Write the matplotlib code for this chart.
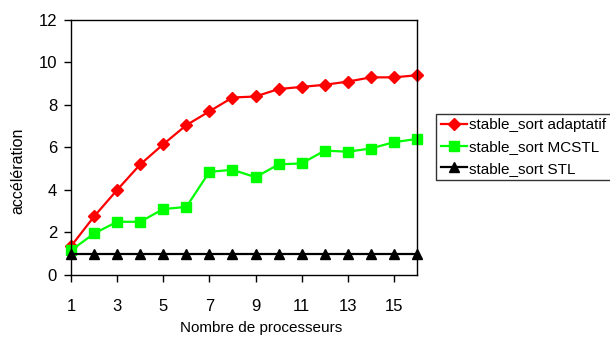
import numpy as np
import matplotlib.pyplot as plt

plt.rcParams['font.family'] = ['Liberation Sans', 'DejaVu Sans']

procs = np.arange(1, 17)
adaptatif = [1.35, 2.75, 4.0, 5.2, 6.15, 7.05, 7.7, 8.35, 8.4, 8.75, 8.85, 8.95, 9.1, 9.3, 9.3, 9.4]
mcstl = [1.15, 1.95, 2.5, 2.5, 3.1, 3.2, 4.85, 4.95, 4.6, 5.2, 5.25, 5.85, 5.8, 5.95, 6.25, 6.4]
stl = [1.0] * 16

fig = plt.figure(figsize=(6.1, 3.38), dpi=100)
ax = fig.add_axes([0.1164, 0.1867, 0.5672, 0.7541])

ax.plot(procs, adaptatif, color='#ff0000', lw=1.6, marker='D', ms=6.5, label='stable_sort adaptatif', clip_on=False)
ax.plot(procs, mcstl, color='#00ff00', lw=1.6, marker='s', ms=6.8, label='stable_sort MCSTL', clip_on=False)
ax.plot(procs, stl, color='black', lw=1.6, marker='^', ms=7.5, label='stable_sort STL', clip_on=False)

ax.set_xlim(1, 16)
ax.set_ylim(0, 12)
ax.set_xticks(np.arange(1, 16, 2))
ax.set_yticks(np.arange(0, 13, 2))
ax.tick_params(direction='out', length=5, width=1, labelsize=12, colors='black')
ax.tick_params(axis='x', pad=12)
ax.tick_params(axis='y', pad=5)
for s in ax.spines.values():
    s.set_linewidth(1)

ax.set_xlabel('Nombre de processeurs', fontsize=11)
ax.set_ylabel('accélération', fontsize=11.5)
ax.xaxis.set_label_coords(0.55, -0.18)
ax.yaxis.set_label_coords(-0.133, 0.41)

leg = fig.legend(loc='upper left', bbox_to_anchor=(0.7148, 0.663), fontsize=11,
                 frameon=True, fancybox=False, edgecolor='black', handlelength=1.7,
                 handletextpad=0.15, borderpad=0.3, labelspacing=0.5, borderaxespad=0)
leg.get_frame().set_linewidth(1)

fig.savefig('out.png', dpi=100)
